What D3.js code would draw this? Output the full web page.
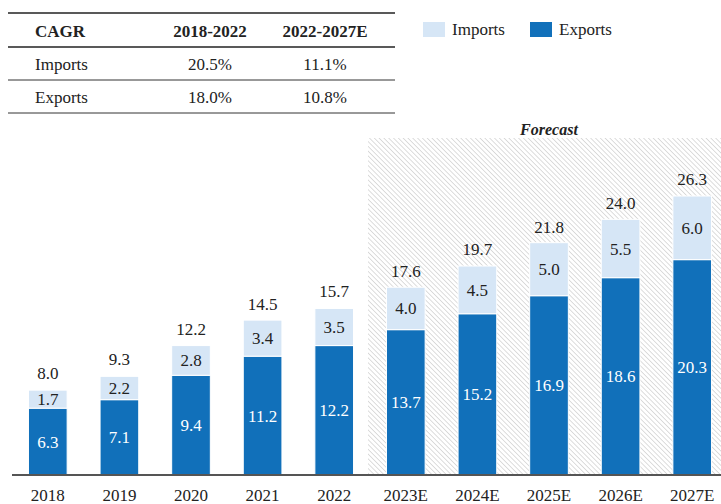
<!DOCTYPE html>
<html>
<head>
<meta charset="utf-8">
<script src="https://cdn.jsdelivr.net/npm/d3@7"></script>
<style>
  body { margin: 0; background: #fff; }
</style>
</head>
<body>
<script>
const years = ["2018", "2019", "2020", "2021", "2022", "2023E", "2024E", "2025E", "2026E", "2027E"];
const exportsVals = [6.3, 7.1, 9.4, 11.2, 12.2, 13.7, 15.2, 16.9, 18.6, 20.3];
const importsVals = [1.7, 2.2, 2.8, 3.4, 3.5, 4.0, 4.5, 5.0, 5.5, 6.0];
const totals = [8.0, 9.3, 12.2, 14.5, 15.7, 17.6, 19.7, 21.8, 24.0, 26.3];
const forecastStart = "2023E";

const cagrHeader = ["CAGR", "2018-2022", "2022-2027E"];
const cagrRows = [
  ["Imports", "20.5%", "11.1%"],
  ["Exports", "18.0%", "10.8%"]
];

const w = 721, h = 504;
const cExp = "#1170ba", cImp = "#d6e6f6";
const serif = "Liberation Serif";

const svg = d3.select("body").append("svg")
  .attr("width", w).attr("height", h);

// hatch pattern for forecast area
const defs = svg.append("defs");
const pat = defs.append("pattern")
  .attr("id", "hatch")
  .attr("patternUnits", "userSpaceOnUse")
  .attr("width", 3.4).attr("height", 3.4)
  .attr("patternTransform", "rotate(-45)");
pat.append("line")
  .attr("x1", 0).attr("y1", 0).attr("x2", 0).attr("y2", 3.4)
  .attr("stroke", "#d2d2d2").attr("stroke-width", 1.5);

const x = d3.scaleBand()
  .domain(years)
  .range([12, 728])
  .paddingInner(0.46)
  .paddingOuter(0.23);

const y = d3.scaleLinear()
  .domain([0, 26.3])
  .range([475, 196]);

// forecast background
const fx0 = x(forecastStart) - x.step() * x.paddingInner() / 2 - 2;
svg.append("rect")
  .attr("x", fx0).attr("y", 138)
  .attr("width", w - fx0).attr("height", y(0) - 138)
  .attr("fill", "url(#hatch)");

const g = svg.append("g");

// exports bars
g.selectAll(".exp").data(years).enter().append("rect")
  .attr("class", "exp")
  .attr("x", d => x(d))
  .attr("width", x.bandwidth())
  .attr("y", (d, i) => y(exportsVals[i]))
  .attr("height", (d, i) => y(0) - y(exportsVals[i]))
  .attr("fill", cExp)
  .attr("stroke", "#fff").attr("stroke-width", 1);

// imports bars
g.selectAll(".imp").data(years).enter().append("rect")
  .attr("class", "imp")
  .attr("x", d => x(d))
  .attr("width", x.bandwidth())
  .attr("y", (d, i) => y(exportsVals[i] + importsVals[i]))
  .attr("height", (d, i) => y(exportsVals[i]) - y(exportsVals[i] + importsVals[i]))
  .attr("fill", cImp)
  .attr("stroke", "#fff").attr("stroke-width", 1);

const cx = d => x(d) + x.bandwidth() / 2;

g.selectAll(".expLbl").data(years).enter().append("text")
  .attr("x", cx)
  .attr("y", (d, i) => y(exportsVals[i] / 2) + 6)
  .attr("text-anchor", "middle")
  .attr("fill", "#fff")
  .text((d, i) => exportsVals[i].toFixed(1));

g.selectAll(".impLbl").data(years).enter().append("text")
  .attr("x", cx)
  .attr("y", (d, i) => y(exportsVals[i] + importsVals[i] / 2) + 6)
  .attr("text-anchor", "middle")
  .attr("fill", "#222")
  .text((d, i) => importsVals[i].toFixed(1));

g.selectAll(".totLbl").data(years).enter().append("text")
  .attr("x", cx)
  .attr("y", (d, i) => y(totals[i]) - 11)
  .attr("text-anchor", "middle")
  .attr("fill", "#222")
  .text((d, i) => totals[i].toFixed(1));

// x axis
const xAxis = svg.append("g")
  .attr("transform", `translate(0, ${y(0)})`)
  .call(d3.axisBottom(x).tickSize(0).tickPadding(14));
xAxis.select(".domain").attr("d", `M12,0H${w}`).attr("stroke", "#555").attr("stroke-width", 2);
xAxis.selectAll("text").attr("fill", "#222");

const lastYear = years[years.length - 1];
svg.append("text")
  .attr("class", "forecast")
  .attr("x", (x(forecastStart) + x(lastYear) + x.bandwidth()) / 2).attr("y", 135)
  .attr("text-anchor", "middle")
  .attr("font-weight", "bold")
  .attr("font-style", "italic")
  .attr("fill", "#222")
  .text("Forecast");

// CAGR table
const colX = [35, 210, 325];
const rowY = [31, 64, 97];
const lines = [13, 47, 80, 113];
const tbl = svg.append("g");
tbl.selectAll("line").data(lines).enter().append("line")
  .attr("x1", 8).attr("x2", 395)
  .attr("y1", d => d).attr("y2", d => d)
  .attr("stroke", (d, i) => i < 2 ? "#222" : "#333")
  .attr("stroke-width", (d, i) => i < 2 ? 1.3 : 1);

[cagrHeader, ...cagrRows].forEach((row, ri) => {
  row.forEach((cell, ci) => {
    tbl.append("text")
      .attr("x", colX[ci])
      .attr("y", rowY[ri] + 6)
      .attr("text-anchor", ci === 0 ? "start" : "middle")
      .attr("font-weight", ri === 0 ? "bold" : "normal")
      .attr("fill", "#222")
      .text(cell);
  });
});

// legend
const legend = [["Imports", cImp, 423], ["Exports", cExp, 530]];
legend.forEach(([name, col, lx]) => {
  svg.append("rect").attr("x", lx).attr("y", 22).attr("width", 22).attr("height", 15).attr("fill", col);
  svg.append("text").attr("x", lx + 29).attr("y", 35)
    .attr("fill", "#222").text(name);
});

// set the serif face on every text element directly
svg.selectAll("text")
  .attr("font-family", serif)
  .attr("font-size", 17);
svg.select(".forecast").attr("font-size", 16);
</script>
</body>
</html>
